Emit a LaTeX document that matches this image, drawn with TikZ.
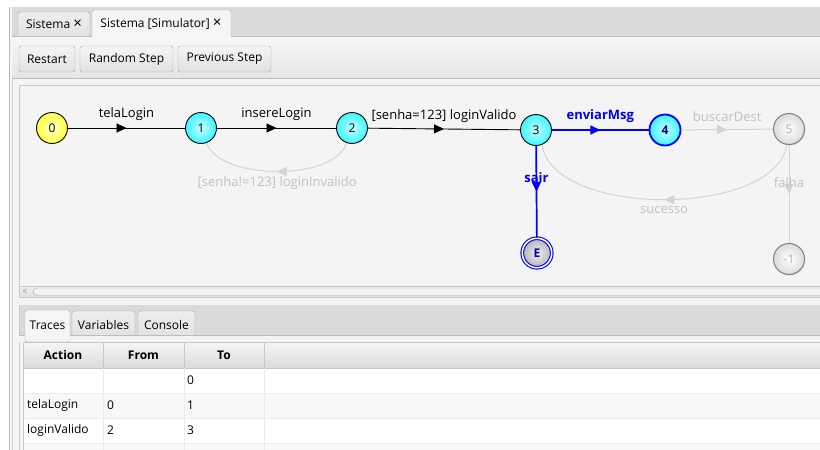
\documentclass[tikz,border=0pt]{standalone}
\usepackage{fontspec}
\setmainfont{Open Sans}
\usetikzlibrary{arrows.meta,decorations.markings,shadows}
\definecolor{winbg}{HTML}{F4F4F4}
\definecolor{tabbar}{HTML}{DADADA}
\definecolor{frameln}{HTML}{BDBDBD}
\definecolor{btnln}{HTML}{A8A8A8}
\definecolor{tabsel}{HTML}{8EC6E8}
\definecolor{edgegray}{HTML}{D4D4D4}
\definecolor{lblgray}{HTML}{C2C2C2}
\definecolor{selblue}{HTML}{0000FF}
\definecolor{rowalt}{HTML}{F8F8F8}
\definecolor{gridln}{HTML}{EBEBEB}
\definecolor{ynode}{HTML}{FFFF3C}
\definecolor{cnode}{HTML}{3CF6FF}
\newcommand{\closex}{{\fontsize{15}{15}\selectfont ×}}
\tikzset{
  uifont/.style={font=\fontsize{12}{14}\selectfont},
  gfont/.style={font=\fontsize{13}{15}\selectfont},
  btn/.style={draw=btnln, rounded corners=2.5pt, top color=white!96!black, bottom color=white!88!black},
  tabbox/.style={draw=btnln, rounded corners=2.5pt, top color=white!93!black, bottom color=white!88!black},
  state/.style={circle, minimum size=31pt, inner sep=0pt, draw=black, line width=0.9pt, font=\fontsize{12}{14}\selectfont},
  ystate/.style={state, inner color=ynode!25!white, outer color=ynode},
  cstate/.style={state, inner color=cnode!30!white, outer color=cnode},
  gstate/.style={state, draw=black!50, line width=1pt, inner color=white, outer color=black!14, text=black!30,
     drop shadow={opacity=0.25, shadow xshift=0.8pt, shadow yshift=-1pt}},
  midarrow/.style={postaction={decorate, decoration={markings,
     mark=at position 0.5 with {\arrow[color=#1]{Triangle[length=10pt,width=9pt]}}}}},
  blkedge/.style={draw=black, line width=0.9pt, midarrow=black},
  bluedge/.style={draw=selblue, line width=1.7pt, midarrow=selblue},
  grayedge/.style={draw=edgegray, line width=1pt, midarrow=edgegray},
  lbl/.style={gfont, inner sep=0pt, text=black},
  glbl/.style={gfont, inner sep=0pt, text=lblgray},
  blbl/.style={gfont, inner sep=0pt, text=selblue, font=\fontsize{13}{15}\selectfont\bfseries},
  celltxt/.style={uifont, inner sep=0pt, anchor=west},
  hdtxt/.style={font=\fontsize{12}{14}\selectfont\bfseries, inner sep=0pt}
}
\begin{document}
\begin{tikzpicture}[x=1pt,y=-1pt]
\useasboundingbox (0,0) rectangle (820,450);
\fill[white] (0,0) rectangle (820,450);
% window
\fill[winbg] (9,7) rectangle (820,450);
\draw[frameln] (9.5,7) -- (9.5,450);
\draw[frameln!70] (12,7) -- (12,450);
% tab bar
\fill[tabbar] (12,7) rectangle (820,36);
\draw[tabbox] (18,12) rectangle (90,42);
\node[uifont, inner sep=0pt] (tab1) at (54,24) {Sistema \closex};
\draw[draw=tabsel, rounded corners=2.5pt, fill=white!96!black] (92,10) rectangle (231,42);
\node[uifont, inner sep=0pt] (tab2) at (161,24) {Sistema [Simulator] \closex};
% toolbar
\shade[top color=white!97!black, bottom color=white!90!black] (12,36) rectangle (820,78);
\draw[frameln] (12,36) -- (92,36) (231,36) -- (820,36);
\draw[frameln] (12,78) -- (820,78);
\draw[btn] (19,46) rectangle (75,72);
\node[uifont, inner sep=0pt] (b1) at (47,59) {Restart};
\draw[btn] (80,46) rectangle (173,72);
\node[uifont, inner sep=0pt] (b2) at (126.5,59) {Random Step};
\draw[btn] (178,46) rectangle (271,72);
\node[uifont, inner sep=0pt] (b3) at (224.5,59) {Previous Step};
% graph panel
\fill[winbg] (19,85) rectangle (820,298);
\draw[frameln!80] (19.5,298) -- (19.5,85.5) -- (820,85.5);
% scroll bar
\shade[top color=white!94!black, bottom color=white!88!black] (20,286) rectangle (820,297);
\draw[frameln!80] (20,286.5) -- (820,286.5) (20,297.5) -- (820,297.5);
\node[font=\fontsize{9}{10}\selectfont, text=black!45, inner sep=0pt] (sl) at (25,291.5) {<};
\draw[btnln, rounded corners=4pt, fill=white!95!black] (33,288) rectangle (830,295.5);
% bottom tab area
\fill[tabbar] (19,305) rectangle (820,335);
\draw[frameln!80] (19.5,305) -- (19.5,450);
\draw[tabbox] (72,311) rectangle (135,340);
\node[uifont, inner sep=0pt] (tv) at (103.5,325) {Variables};
\draw[tabbox] (138,311) rectangle (195,340);
\node[uifont, inner sep=0pt] (tc) at (166.5,325) {Console};
\fill[winbg] (19,335.5) rectangle (820,342);
\draw[frameln] (19,335.5) -- (25,335.5) (70,335.5) -- (820,335.5);
\draw[btnln, rounded corners=2.5pt, fill=white!96!black] (25,310) rectangle (70,342);
\fill[white!96!black] (25.5,334) rectangle (69.5,341);
\node[uifont, inner sep=0pt] (tt) at (47.5,325) {Traces};
% table
\fill[white] (24,342) rectangle (820,450);
\shade[top color=white!96!black, bottom color=white!86!black] (24,342) rectangle (820,368);
\draw[black!22] (24,342.5) -- (820,342.5) (24,368) -- (820,368);
\draw[black!22] (23.5,342) -- (23.5,450);
\foreach \cx in {103,184,264} {\draw[black!22] (\cx,342) -- (\cx,368);}
\fill[rowalt] (24,393) rectangle (820,418);
\fill[rowalt] (24,443) rectangle (820,450);
\foreach \ry in {393,418,443} {\draw[gridln] (24,\ry) -- (820,\ry);}
\foreach \cx in {103,184,264} {\draw[gridln] (\cx,368) -- (\cx,450);}
\node[hdtxt] (hA) at (63,355) {Action};
\node[hdtxt] (hF) at (143.5,355) {From};
\node[hdtxt] (hT) at (224,355) {To};
\node[celltxt] (r1t) at (187,380.5) {0};
\node[celltxt] (r2a) at (27,405.5) {telaLogin};
\node[celltxt] (r2f) at (107,405.5) {0};
\node[celltxt] (r2t) at (187,405.5) {1};
\node[celltxt] (r3a) at (27,430.5) {loginValido};
\node[celltxt] (r3f) at (107,430.5) {2};
\node[celltxt] (r3t) at (187,430.5) {3};
% states
\node[ystate] (n0) at (52,128) {0};
\node[cstate] (n1) at (201,128) {1};
\node[cstate] (n2) at (352,128) {2};
\node[cstate] (n3) at (536,130) {3};
\node[cstate, draw=selblue, line width=1.8pt, text=blue!50!black, font=\fontsize{12}{14}\selectfont\bfseries] (n4) at (665,130) {4};
\node[gstate] (n5) at (789,129) {5};
\node[gstate, draw=selblue, line width=1.1pt, double=white, double distance=1.5pt, text=blue!70!black,
      inner color=black!6, outer color=black!30,
      font=\fontsize{12}{14}\selectfont\bfseries, minimum size=29.5pt] (nE) at (537,253) {E};
\node[gstate] (nm) at (789,259) {-1};
% edges
\draw[blkedge] (n0) -- (n1) node[lbl, midway, above=7pt] {telaLogin};
\draw[blkedge] (n1) -- (n2) node[lbl, midway, above=7pt] {insereLogin};
\draw[blkedge] (n2) -- (n3) node[lbl, midway, above=6pt] {[senha=123] loginValido};
\draw[bluedge] (n3) -- (n4) node[blbl, midway, above=7pt] {enviarMsg};
\draw[grayedge] (n4) -- (n5) node[glbl, midway, above=7pt] {buscarDest};
\draw[grayedge] (n2.250) .. controls (335,181) and (220,181) .. (n1.290)
   node[glbl, pos=0.5, below=5pt] {[senha!=123] loginInvalido};
\draw[grayedge] (n5.262) .. controls (775,218) and (553,218) .. (n3.292)
   node[glbl, pos=0.5, below=6pt] {sucesso};
\draw[bluedge] (n3) -- (nE) node[blbl, pos=0.35] {sair};
\draw[grayedge] (n5) -- (nm) node[glbl, pos=0.38] {falha};
\end{tikzpicture}
\end{document}
